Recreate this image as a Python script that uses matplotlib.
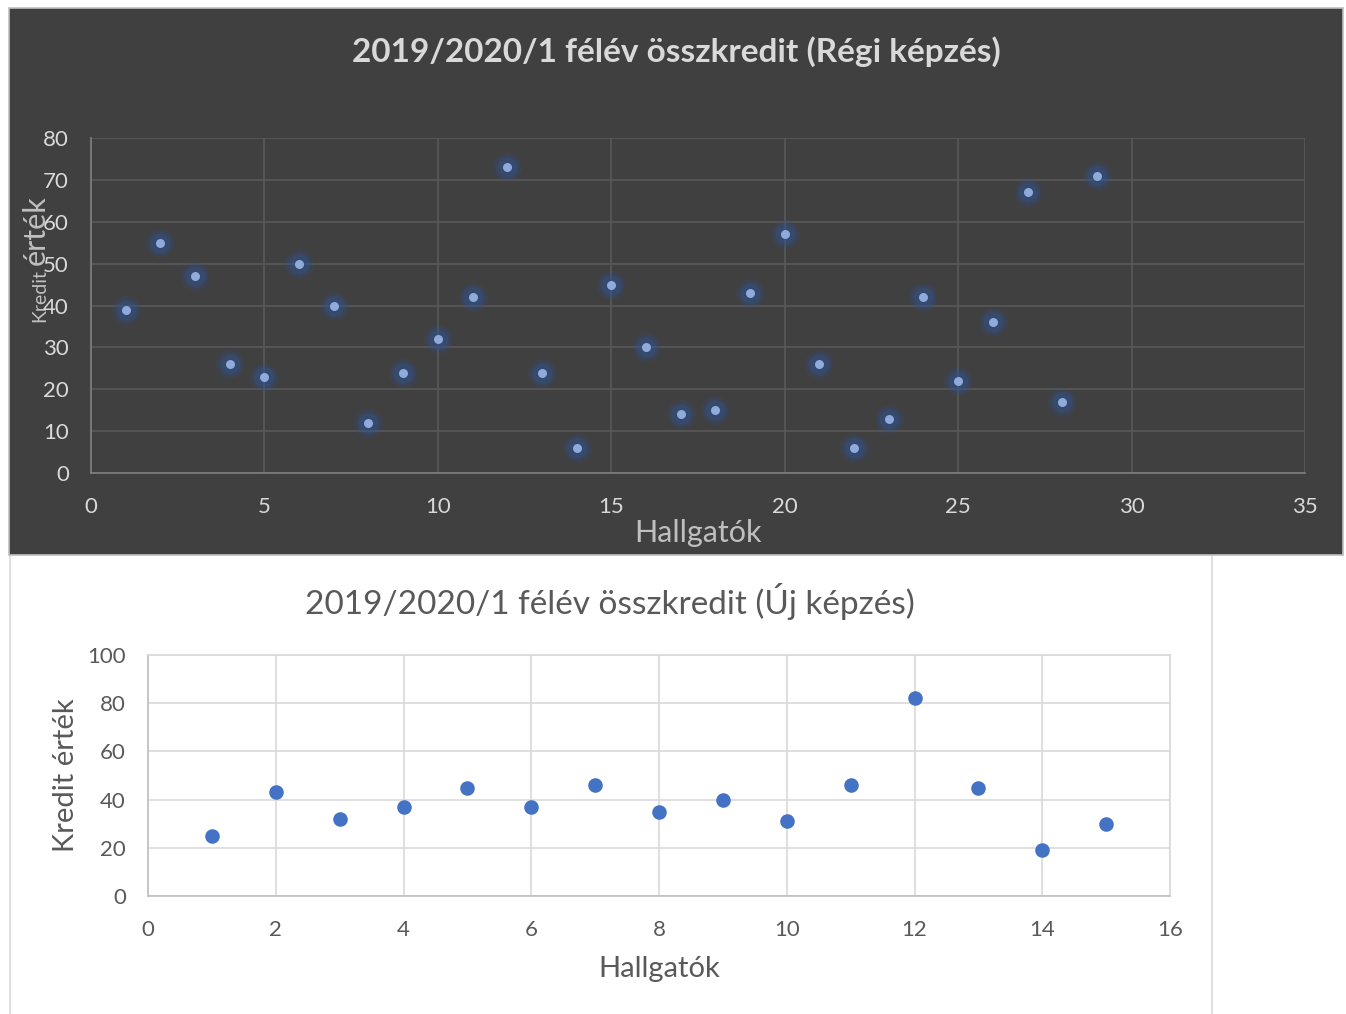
import matplotlib.pyplot as plt
from matplotlib.patches import Rectangle
from matplotlib.lines import Line2D

plt.rcParams['font.family'] = ['Lato', 'DejaVu Sans']

# Régi képzés
regi_x = list(range(1, 30))
regi_y = [39, 55, 47, 26, 23, 50, 40, 12, 24, 32, 42, 73, 24, 6, 45,
          30, 14, 15, 43, 57, 26, 6, 13, 42, 22, 36, 67, 17, 71]

# Új képzés
uj_x = list(range(1, 16))
uj_y = [25, 43, 32, 37, 45, 37, 46, 35, 40, 31, 46, 82, 45, 19, 30]

W, H = 1346, 1014
fig = plt.figure(figsize=(W / 100, H / 100), dpi=100)


def fx(px):
    return px / W


def fy(py):
    return 1 - py / H


# panel backgrounds
fig.patches.append(Rectangle((fx(9), fy(555)), fx(1343) - fx(9), fy(8) - fy(555),
                             transform=fig.transFigure, facecolor='#404040',
                             edgecolor='#bfbfbf', linewidth=1.2, zorder=-5))
for xpx in (9.5, 1211.5):
    fig.lines.append(Line2D([fx(xpx), fx(xpx)], [fy(556), 0], transform=fig.transFigure,
                            color='#d9d9d9', linewidth=1.2, zorder=-5))

# ---- top chart (dark) ----
ax1 = fig.add_axes([fx(91), fy(473), fx(1305) - fx(91), fy(138) - fy(473)])
ax1.set_facecolor('none')
ax1.set_xlim(0, 35)
ax1.set_ylim(0, 80)
ax1.set_xticks(range(0, 36, 5))
ax1.set_yticks(range(0, 81, 10))
ax1.grid(True, color='#595959', linewidth=1.2)
ax1.set_axisbelow(True)
for s in ['top', 'right']:
    ax1.spines[s].set_visible(False)
for s in ['left', 'bottom']:
    ax1.spines[s].set_color('#808080')
    ax1.spines[s].set_linewidth(1.2)
ax1.tick_params(length=0, labelsize=16, labelcolor='#d9d9d9')
ax1.tick_params(axis='y', pad=16)
ax1.tick_params(axis='x', pad=17)
# glow + dot
for size, alpha in [(440, 0.14), (300, 0.20), (200, 0.32)]:
    ax1.scatter(regi_x, regi_y, s=size, color='#2f5597', alpha=alpha, linewidths=0, zorder=3)
ax1.scatter(regi_x, regi_y, s=42, color='#8faadc', linewidths=0, zorder=4)
ax1.set_xlabel('Hallgatók', fontsize=22, color='#bfbfbf', labelpad=2)

fig.text(fx(676), fy(52), '2019/2020/1 félév összkredit (Régi képzés)', ha='center', va='center',
         fontsize=24, fontweight='bold', color='#d9d9d9')

# split y label: small "Kredit" + large "érték"
t1 = fig.text(fx(45), fy(322), 'Kredit', rotation=90, rotation_mode='anchor',
              ha='left', va='baseline', fontsize=14, color='#bfbfbf', zorder=-1)
fig.canvas.draw()
bb = t1.get_window_extent()
fig.text(fx(45), (bb.y1 + 4) / H, 'érték', rotation=90, rotation_mode='anchor',
         ha='left', va='baseline', fontsize=22, color='#bfbfbf', zorder=-1)

# ---- bottom chart (white) ----
ax2 = fig.add_axes([fx(148), fy(896), fx(1170) - fx(148), fy(655) - fy(896)])
ax2.set_xlim(0, 16)
ax2.set_ylim(0, 100)
ax2.set_xticks(range(0, 17, 2))
ax2.set_yticks(range(0, 101, 20))
ax2.grid(True, color='#d9d9d9', linewidth=1.2)
ax2.set_axisbelow(True)
for s in ['top', 'right']:
    ax2.spines[s].set_color('#d9d9d9')
for s in ['left', 'bottom']:
    ax2.spines[s].set_color('#bfbfbf')
for s in ax2.spines.values():
    s.set_linewidth(1.2)
ax2.tick_params(length=0, labelsize=16, labelcolor='#595959')
ax2.tick_params(axis='y', pad=16)
ax2.tick_params(axis='x', pad=17)
ax2.scatter(uj_x, uj_y, s=110, color='#4472c4', linewidths=0, zorder=3)
ax2.set_xlabel('Hallgatók', fontsize=21, color='#595959', labelpad=12)
ax2.set_ylabel('Kredit érték', fontsize=21, color='#595959', labelpad=6)

fig.text(fx(610), fy(601), '2019/2020/1 félév összkredit (Új képzés)', ha='center', va='center',
         fontsize=24, color='#595959')

fig.savefig('out.png', dpi=100, facecolor='white')
